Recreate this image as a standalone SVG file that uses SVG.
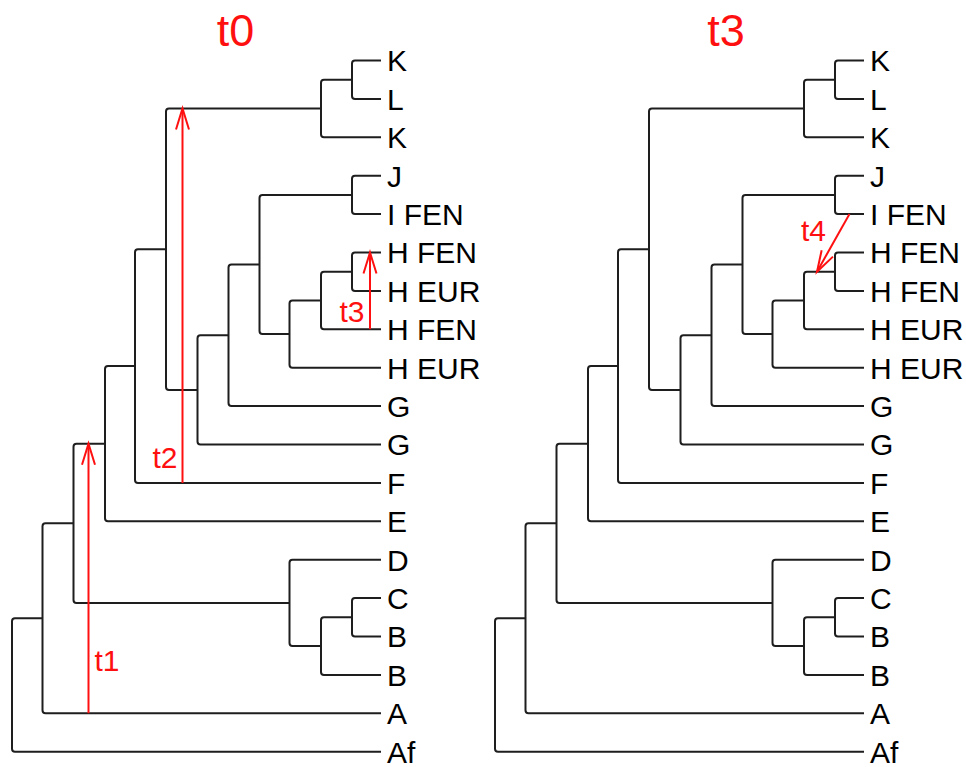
<svg xmlns="http://www.w3.org/2000/svg" width="966" height="767" viewBox="0 0 966 767">
<defs>
<style>
.br{fill:none;stroke:#1e1e1e;stroke-width:2;stroke-linejoin:round;stroke-linecap:butt}
.tr{fill:none;stroke:#ff1010;stroke-width:2}
.lb{font-family:"Liberation Sans",Arial,sans-serif;font-size:30px;fill:#000}
.rl{font-family:"Liberation Sans",Arial,sans-serif;font-size:30px;fill:#ff1010}
.tt{font-family:"Liberation Sans",Arial,sans-serif;font-size:45px;fill:#ff1010;text-anchor:middle}
</style>
<marker id="ah" viewBox="-23 -8 25 16" refX="0" refY="0" markerWidth="25" markerHeight="16" markerUnits="userSpaceOnUse" orient="auto" overflow="visible">
<path d="M-21,-6.5 L0,0 L-21,6.5" fill="none" stroke="#ff1010" stroke-width="2"/>
</marker>
<g id="treeShape">
<path class="br" d="M381,60.5 H355 Q352,60.5 352,63.5 V95.9 Q352,98.9 355,98.9 H381"/>
<path class="br" d="M352,79.7 H324 Q321,79.7 321,82.7 V134.3 Q321,137.3 324,137.3 H381"/>
<path class="br" d="M381,175.7 H355 Q352,175.7 352,178.7 V211.1 Q352,214.1 355,214.1 H381"/>
<path class="br" d="M381,252.5 H355 Q352,252.5 352,255.5 V287.9 Q352,290.9 355,290.9 H381"/>
<path class="br" d="M352,271.7 H324 Q321,271.7 321,274.7 V326.3 Q321,329.3 324,329.3 H381"/>
<path class="br" d="M321,300.5 H292.5 Q289.5,300.5 289.5,303.5 V364.7 Q289.5,367.7 292.5,367.7 H381"/>
<path class="br" d="M352,194.9 H262.5 Q259.5,194.9 259.5,197.9 V331.1 Q259.5,334.1 262.5,334.1 H289.5"/>
<path class="br" d="M259.5,264.5 H231.5 Q228.5,264.5 228.5,267.5 V403.1 Q228.5,406.1 231.5,406.1 H381"/>
<path class="br" d="M228.5,335.3 H200.5 Q197.5,335.3 197.5,338.3 V441.5 Q197.5,444.5 200.5,444.5 H381"/>
<path class="br" d="M321,108.5 H169 Q166,108.5 166,111.5 V386.9 Q166,389.9 169,389.9 H197.5"/>
<path class="br" d="M166,249.2 H138 Q135,249.2 135,252.2 V479.9 Q135,482.9 138,482.9 H381"/>
<path class="br" d="M135,366.05 H108 Q105,366.05 105,369.05 V518.3 Q105,521.3 108,521.3 H381"/>
<path class="br" d="M381,598.1 H355 Q352,598.1 352,601.1 V633.5 Q352,636.5 355,636.5 H381"/>
<path class="br" d="M352,617.3 H324 Q321,617.3 321,620.3 V671.9 Q321,674.9 324,674.9 H381"/>
<path class="br" d="M381,559.7 H292.5 Q289.5,559.7 289.5,562.7 V643.1 Q289.5,646.1 292.5,646.1 H321"/>
<path class="br" d="M105,443.7 H76.5 Q73.5,443.7 73.5,446.7 V599.9 Q73.5,602.9 76.5,602.9 H289.5"/>
<path class="br" d="M73.5,523.3 H45.5 Q42.5,523.3 42.5,526.3 V710.3 Q42.5,713.3 45.5,713.3 H381"/>
<path class="br" d="M42.5,618.3 H15 Q12,618.3 12,621.3 V748.7 Q12,751.7 15,751.7 H381"/>
</g>
</defs>
<text class="tt" x="235.5" y="46">t0</text>
<text class="tt" x="726" y="46">t3</text>
<g id="connectors">
<use href="#treeShape" id="tree-t0"/>
<use href="#treeShape" id="tree-t3" transform="translate(483,0)"/>
</g>
<g id="transfers">
<g id="t1"><path class="tr" d="M88.5,713.3 V443.7" marker-end="url(#ah)"/><text class="rl" x="94.5" y="671">t1</text></g>
<g id="t2"><path class="tr" d="M182.5,482.9 V108.5" marker-end="url(#ah)"/><text class="rl" x="152.5" y="468">t2</text></g>
<g id="t3"><path class="tr" d="M370,329.3 V252.5" marker-end="url(#ah)"/><text class="rl" x="339.5" y="322">t3</text></g>
<g id="t4"><path class="tr" d="M849.5,214.1 L817,271.7" marker-end="url(#ah)"/><text class="rl" x="801" y="241">t4</text></g>
</g>
<g id="leaves-t0" class="lb">
<g id="L0-K1"><text class="lb" x="387" y="71.3">K</text></g>
<g id="L0-L"><text class="lb" x="387" y="109.7">L</text></g>
<g id="L0-K2"><text class="lb" x="387" y="148.1">K</text></g>
<g id="L0-J"><text class="lb" x="387" y="186.5">J</text></g>
<g id="L0-I"><text class="lb" x="387" y="224.9">I FEN</text></g>
<g id="L0-H1"><text class="lb" x="387" y="263.3">H FEN</text></g>
<g id="L0-H2"><text class="lb" x="387" y="301.7">H EUR</text></g>
<g id="L0-H3"><text class="lb" x="387" y="340.1">H FEN</text></g>
<g id="L0-H4"><text class="lb" x="387" y="378.5">H EUR</text></g>
<g id="L0-G1"><text class="lb" x="387" y="416.9">G</text></g>
<g id="L0-G2"><text class="lb" x="387" y="455.3">G</text></g>
<g id="L0-F"><text class="lb" x="387" y="493.7">F</text></g>
<g id="L0-E"><text class="lb" x="387" y="532.1">E</text></g>
<g id="L0-D"><text class="lb" x="387" y="570.5">D</text></g>
<g id="L0-C"><text class="lb" x="387" y="608.9">C</text></g>
<g id="L0-B1"><text class="lb" x="387" y="647.3">B</text></g>
<g id="L0-B2"><text class="lb" x="387" y="685.7">B</text></g>
<g id="L0-A"><text class="lb" x="387" y="724.1">A</text></g>
<g id="L0-Af"><text class="lb" x="387" y="762.5">Af</text></g>
</g>
<g id="leaves-t3">
<g id="L3-K1"><text class="lb" x="870" y="71.3">K</text></g>
<g id="L3-L"><text class="lb" x="870" y="109.7">L</text></g>
<g id="L3-K2"><text class="lb" x="870" y="148.1">K</text></g>
<g id="L3-J"><text class="lb" x="870" y="186.5">J</text></g>
<g id="L3-I"><text class="lb" x="870" y="224.9">I FEN</text></g>
<g id="L3-H1"><text class="lb" x="870" y="263.3">H FEN</text></g>
<g id="L3-H2"><text class="lb" x="870" y="301.7">H FEN</text></g>
<g id="L3-H3"><text class="lb" x="870" y="340.1">H EUR</text></g>
<g id="L3-H4"><text class="lb" x="870" y="378.5">H EUR</text></g>
<g id="L3-G1"><text class="lb" x="870" y="416.9">G</text></g>
<g id="L3-G2"><text class="lb" x="870" y="455.3">G</text></g>
<g id="L3-F"><text class="lb" x="870" y="493.7">F</text></g>
<g id="L3-E"><text class="lb" x="870" y="532.1">E</text></g>
<g id="L3-D"><text class="lb" x="870" y="570.5">D</text></g>
<g id="L3-C"><text class="lb" x="870" y="608.9">C</text></g>
<g id="L3-B1"><text class="lb" x="870" y="647.3">B</text></g>
<g id="L3-B2"><text class="lb" x="870" y="685.7">B</text></g>
<g id="L3-A"><text class="lb" x="870" y="724.1">A</text></g>
<g id="L3-Af"><text class="lb" x="870" y="762.5">Af</text></g>
</g>
</svg>
